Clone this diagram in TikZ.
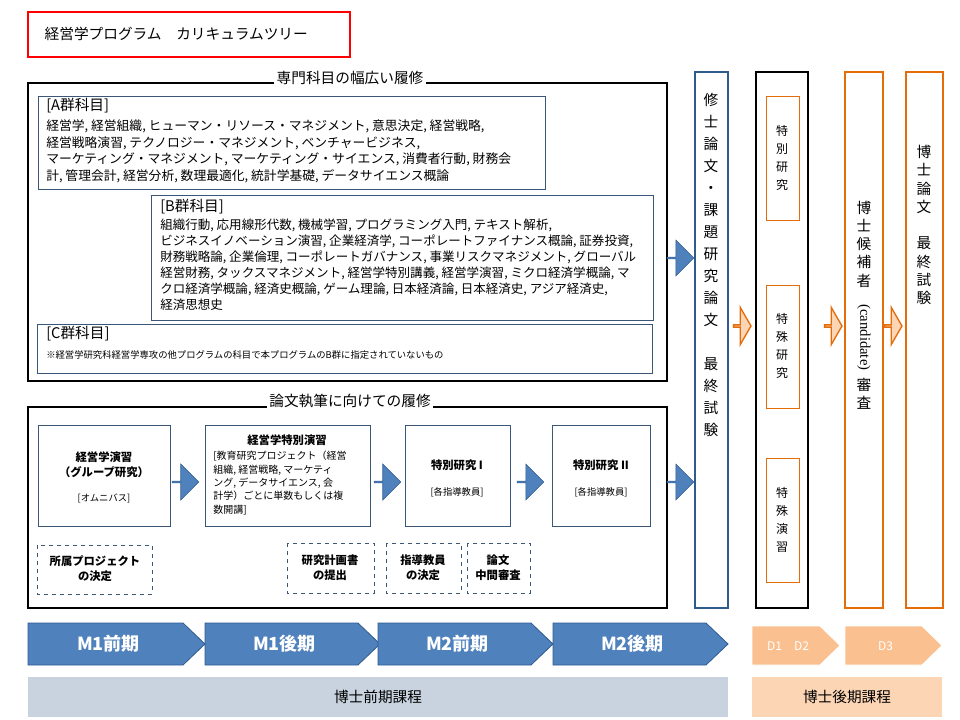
\documentclass[tikz,border=0pt]{standalone}
\usepackage{fontspec}
\setmainfont{Noto Sans CJK JP}
\newfontfamily\serifcand{Liberation Serif}
\usetikzlibrary{shapes.arrows}
\definecolor{bluebd}{HTML}{3B5778}
\definecolor{blueF}{HTML}{4F81BD}
\definecolor{blueD}{HTML}{2F5B8F}
\definecolor{orng}{HTML}{E46C0A}
\definecolor{orngF}{HTML}{FAC090}
\definecolor{orngL}{HTML}{FCD5B5}
\definecolor{greyF}{HTML}{C8D3DF}
\begin{document}
\begin{tikzpicture}[x=0.75pt,y=-0.75pt,
  big/.style={draw=black,line width=1.6pt},
  grp/.style={draw=bluebd,line width=0.6pt},
  inner/.style={draw=bluebd,line width=0.6pt},
  dsh/.style={draw=bluebd,dashed,line width=0.5pt},
  tx/.style={font=\fontsize{9.6}{12.7}\selectfont,align=left,anchor=north west,inner sep=0pt},
  ttl/.style={font=\fontsize{11}{12}\selectfont,fill=white,inner sep=2pt},
  barr/.style={single arrow,fill=blueF,draw=blueD,line width=0.4pt,minimum height=20pt,minimum width=27pt,single arrow head extend=4pt,inner sep=0pt},
  oarr/.style={single arrow,fill=orngL,draw=orng,line width=1pt,minimum height=13pt,minimum width=28pt,single arrow head extend=8pt,single arrow tip angle=120,inner sep=0pt},
  vt/.style={font=\fontsize{11}{13.7}\selectfont,align=center,inner sep=0pt},
  bold/.style={font=\fontsize{8.5}{11}\selectfont\bfseries,align=center,inner sep=0pt}]
\useasboundingbox (0,0) rectangle (960,720);
\fill[white] (0,0) rectangle (960,720);
% title
\draw[draw=red,line width=1.4pt] (28,12) rectangle (350,57);
\node[font=\fontsize{11}{12}\selectfont,anchor=west] (title) at (40,34) {経営学プログラム　カリキュラムツリー};
% box 1
\draw[big] (28,83) rectangle (667,381);
\node[ttl] (t1) at (350,78) {専門科目の幅広い履修};
\draw[grp] (38,96) rectangle (545,189);
\node[tx,font=\fontsize{11}{12}\selectfont] (ah) at (46,98) {[A群科目]};
\node[tx] (a) at (46,119) {経営学, 経営組織, ヒューマン・リソース・マネジメント, 意思決定, 経営戦略,\\経営戦略演習, テクノロジー・マネジメント, ベンチャービジネス,\\マーケティング・マネジメント, マーケティング・サイエンス, 消費者行動, 財務会\\計, 管理会計, 経営分析, 数理最適化, 統計学基礎, データサイエンス概論};
\draw[grp] (151,195) rectangle (653,320);
\node[tx,font=\fontsize{11}{12}\selectfont] (bh) at (160,199) {[B群科目]};
\node[tx,font=\fontsize{9.4}{12}\selectfont] (b) at (160,219) {組織行動, 応用線形代数, 機械学習, プログラミング入門, テキスト解析,\\ビジネスイノベーション演習, 企業経済学, コーポレートファイナンス概論, 証券投資,\\財務戦略論, 企業倫理, コーポレートガバナンス, 事業リスクマネジメント, グローバル\\経営財務, タックスマネジメント, 経営学特別講義, 経営学演習, ミクロ経済学概論, マ\\クロ経済学概論, 経済史概論, ゲーム理論, 日本経済論, 日本経済史, アジア経済史,\\経済思想史};
\draw[grp] (37,324) rectangle (652,373);
\node[tx,font=\fontsize{11}{12}\selectfont] (ch) at (46,326) {[C群科目]};
\node[tx,font=\fontsize{7}{9}\selectfont] (c) at (46,350) {※経営学研究科経営学専攻の他プログラムの科目で本プログラムのB群に指定されていないもの};
% box 2
\draw[big] (28,407) rectangle (667,608);
\node[ttl] (t2) at (350,401) {論文執筆に向けての履修};
\draw[inner] (38,425) rectangle (170,526);
\node[bold] (e1) at (104,465) {経営学演習\\（グループ研究）};
\node[tx,anchor=center,font=\fontsize{7}{9}\selectfont] (e1b) at (104,498) {[オムニバス]};
\draw[inner] (205,425) rectangle (370,526);
\node[bold] (e2) at (287,440) {経営学特別演習};
\node[tx,font=\fontsize{7.5}{10}\selectfont] (e2b) at (213,451) {[教育研究プロジェクト（経営\\組織, 経営戦略, マーケティ\\ング, データサイエンス, 会\\計学）ごとに単数もしくは複\\数開講]};
\draw[inner] (405,425) rectangle (510,526);
\node[bold] (e3) at (457,465) {特別研究 I};
\node[tx,anchor=center,font=\fontsize{7}{9}\selectfont] (e3b) at (457,492) {[各指導教員]};
\draw[inner] (552,425) rectangle (650,526);
\node[bold] (e4) at (601,465) {特別研究 II};
\node[tx,anchor=center,font=\fontsize{7}{9}\selectfont] (e4b) at (601,492) {[各指導教員]};
\node[barr] (ar1) at (185,482) {};
\node[barr] (ar2) at (387,482) {};
\node[barr] (ar3) at (530,482) {};
\draw[dsh] (37,545) rectangle (152,594);
\node[bold] (d1) at (95,569) {所属プロジェクト\\の決定};
\draw[dsh] (287,543) rectangle (374,593);
\node[bold] (d2) at (330,568) {研究計画書\\の提出};
\draw[dsh] (386,543) rectangle (461,593);
\node[bold] (d3) at (423,568) {指導教員\\の決定};
\draw[dsh] (467,543) rectangle (530,593);
\node[bold] (d4) at (498,568) {論文\\中間審査};
\node[barr] (ar4) at (680,258) {};
\node[barr] (ar5) at (680,482) {};
% master thesis column
\draw[draw=blueD,line width=1.4pt] (695,72) rectangle (728,608);
\node[vt,font=\fontsize{11}{16.5}\selectfont] (mt) at (711,265) {修\\士\\論\\文\\・\\課\\題\\研\\究\\論\\文\\ \\最\\終\\試\\験};
% D column
\draw[big] (756,72) rectangle (808,608);
\draw[draw=orng,line width=0.5pt] (766,96) rectangle (799,220);
\node[vt,font=\fontsize{9}{13.5}\selectfont] (s1) at (782,158) {特\\別\\研\\究};
\draw[draw=orng,line width=0.5pt] (766,285) rectangle (799,408);
\node[vt,font=\fontsize{9}{13.5}\selectfont] (s2) at (782,346) {特\\殊\\研\\究};
\draw[draw=orng,line width=0.5pt] (766,458) rectangle (799,582);
\node[vt,font=\fontsize{9}{13.5}\selectfont] (s3) at (782,520) {特\\殊\\演\\習};
\draw[draw=orng,line width=1.4pt] (845,72) rectangle (883,608);
\node[vt] (cd) at (864,305) {博\\士\\候\\補\\者\\{\serifcand\rotatebox{-90}{(candidate)}}\\ \\審\\査};
\draw[draw=orng,line width=1.4pt] (906,72) rectangle (943,608);
\node[vt] (dt) at (924,225) {博\\士\\論\\文\\ \\最\\終\\試\\験};
\node[oarr] (o1) at (742,326) {};
\node[oarr] (o2) at (833,326) {};
\node[oarr] (o3) at (893,326) {};
% timeline
\foreach \a/\b/\t/\n in {28/205/M1前期/p1,205/380/M1後期/p2,378/553/M2前期/p3,553/728/M2後期/p4}{
  \draw[fill=blueF,draw=blueD,line width=0.6pt] (\a,623) -- (\b-22,623) -- (\b,644) -- (\b-22,665) -- (\a,665) -- cycle;
  \node[font=\fontsize{13.5}{15}\selectfont\bfseries,text=white] (\n) at ({(\a+\b)/2-8},644) {\t};
}
\foreach \a/\b/\t/\n in {752/840/D1\quad D2/q1,845/942/D3/q2}{
  \draw[fill=orngF,draw=white,line width=0.6pt] (\a,626) -- (\b-20,626) -- (\b,645.5) -- (\b-20,665) -- (\a,665) -- cycle;
  \node[font=\fontsize{9}{11}\selectfont,text=white] (\n) at ({(\a+\b)/2-8},646) {\t};
}
\fill[greyF] (28,677) rectangle (728,717);
\node[font=\fontsize{11}{12}\selectfont] (zk) at (378,697) {博士前期課程};
\fill[orngL] (752,677) rectangle (942,717);
\node[font=\fontsize{11}{12}\selectfont] (kk) at (847,697) {博士後期課程};
\end{tikzpicture}
\end{document}
